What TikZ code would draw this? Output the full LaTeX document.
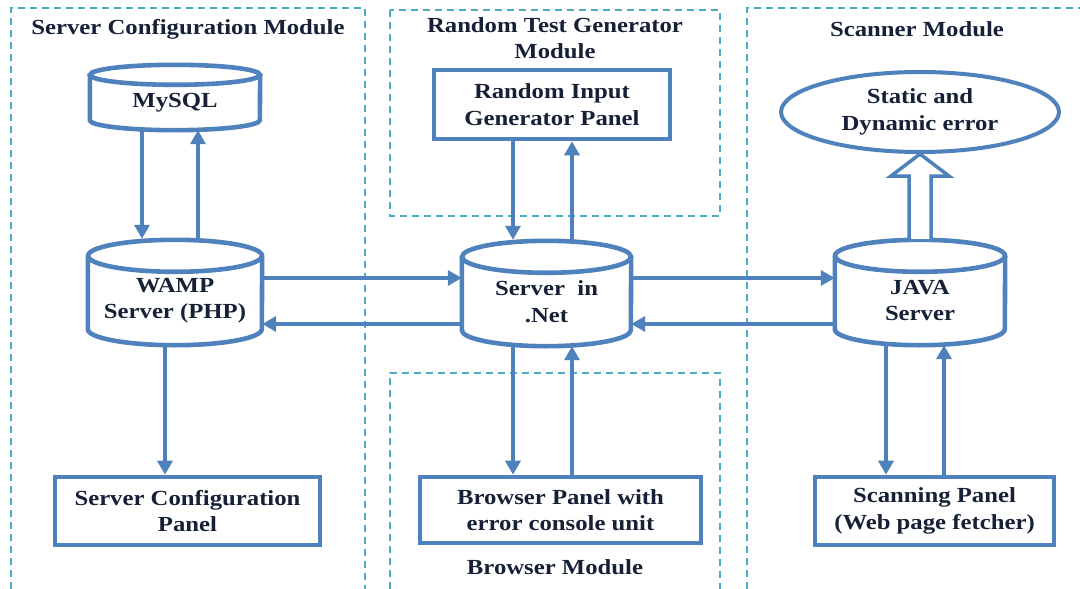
\documentclass[tikz,border=0pt]{standalone}
\usepackage{fontspec}
\setmainfont{Liberation Serif}[FakeStretch=1.15]
\usetikzlibrary{shapes.geometric,arrows.meta,calc}

\definecolor{boxblue}{RGB}{79,129,189}
\definecolor{dashcyan}{RGB}{75,172,198}
\definecolor{textnavy}{RGB}{22,33,55}

\tikzset{
  every node/.style={text=textnavy,align=center,font=\fontsize{21.5}{26.5}\selectfont\bfseries},
  module/.style={draw=dashcyan,line width=2pt,dash pattern=on 7pt off 5pt},
  dbase/.style={rectangle,inner sep=0pt},
  can/.style={draw=boxblue,line width=4.6pt},
  panel/.style={rectangle,draw=boxblue,line width=4.6pt,fill=white},
  arr/.style={draw=boxblue,line width=4.6pt,-{Triangle[length=14pt,width=15pt]}},
  hollow/.style={draw=boxblue,line width=3.5pt,fill=white,line join=miter},
}

\begin{document}
\begin{tikzpicture}[x=1pt,y=-1pt]
    \useasboundingbox (0,0) rectangle (1080,589);

    % module frames
    \draw[module] (11,589) -- (11,8) -- (365,8) -- (365,589);
    \draw[module] (390,10) rectangle (720,216);
    \draw[module] (390,589) -- (390,373) -- (720,373) -- (720,589);
    \draw[module] (747,589) -- (747,8) -- (1080,8);

    \node (scmod) at (188,29) {Server Configuration Module};
    \node (rtmod) at (555,38) {Random Test Generator\\Module};
    \node (scanmod) at (917,29) {Scanner Module};
    \node (brmod) at (555,567) {Browser Module};

    % servers and stores (body below the top rim)
    \node[dbase,minimum width=170pt,minimum height=55pt] (mysql) at (175,102.5) {MySQL};
    \node[dbase,minimum width=174pt,minimum height=89pt] (wamp) at (175,300.5) {WAMP\\Server (PHP)};
    \node[dbase,minimum width=169pt,minimum height=89pt] (net) at (546.5,301.5) {Server~~in\\.Net};
    \node[dbase,minimum width=170pt,minimum height=89pt] (java) at (920,300.5) {JAVA\\Server};

    \foreach \c/\rx/\ry in {mysql/85/10,wamp/87/16,net/84.5/16,java/85/16}{
      \draw[can] (\c.north west) -- ($(\c.south west)+(0,-\ry)$)
          arc[start angle=180,end angle=360,x radius=\rx pt,y radius=\ry pt] -- (\c.north east);
      \draw[can] (\c.north) ellipse[x radius=\rx pt,y radius=\ry pt];
      \coordinate (\c top) at ($(\c.north)+(0,-\ry-1)$);
    }

    % panels
    \node[panel,minimum width=236pt,minimum height=69pt] (rig) at (552,104.5) {Random Input\\Generator Panel};
    \node[panel,minimum width=265pt,minimum height=68pt] (scp) at (187.5,511) {Server Configuration\\Panel};
    \node[panel,minimum width=281pt,minimum height=66pt] (bp) at (560.5,510) {Browser Panel with\\error console unit};
    \node[panel,minimum width=239pt,minimum height=68pt] (sp) at (934.5,511) {Scanning Panel\\(Web page fetcher)};
    \node[ellipse,draw=boxblue,line width=4pt,fill=white,minimum width=278pt,minimum height=80pt] (err) at (920,112) {Static and\\Dynamic error};

    % arrow columns and rows
    \coordinate (ca) at (142,0);
    \coordinate (cb) at (198,0);
    \coordinate (cc) at (165,0);
    \coordinate (cd) at (513,0);
    \coordinate (ce) at (572,0);
    \coordinate (cf) at (886,0);
    \coordinate (cg) at (944,0);
    \coordinate (ra) at (0,278);
    \coordinate (rb) at (0,324);

    \draw[arr] (mysql.south -| ca) -- (wamptop -| ca);
    \draw[arr] (wamptop -| cb) -- (mysql.south -| cb);
    \draw[arr] (wamp.south -| cc) -- (scp.north -| cc);
    \draw[arr] (rig.south -| cd) -- (nettop -| cd);
    \draw[arr] (nettop -| ce) -- (rig.south -| ce);
    \draw[arr] (net.south -| cd) -- (bp.north -| cd);
    \draw[arr] (bp.north -| ce) -- (net.south -| ce);
    \draw[arr] (java.south -| cf) -- (sp.north -| cf);
    \draw[arr] (sp.north -| cg) -- (java.south -| cg);
    \draw[arr] (wamp.east |- ra) -- (net.west |- ra);
    \draw[arr] (net.west |- rb) -- (wamp.east |- rb);
    \draw[arr] (net.east |- ra) -- (java.west |- ra);
    \draw[arr] (java.west |- rb) -- (net.east |- rb);

    % result arrow
    \draw[hollow] ($(err.south |- javatop)+(-11,0)$) -- ($(err.south)+(-11,22)$) -- ($(err.south)+(-29,22)$)
        -- (err.south) -- ($(err.south)+(29,22)$) -- ($(err.south)+(11,22)$) -- ($(err.south |- javatop)+(11,0)$);
\end{tikzpicture}
\end{document}
